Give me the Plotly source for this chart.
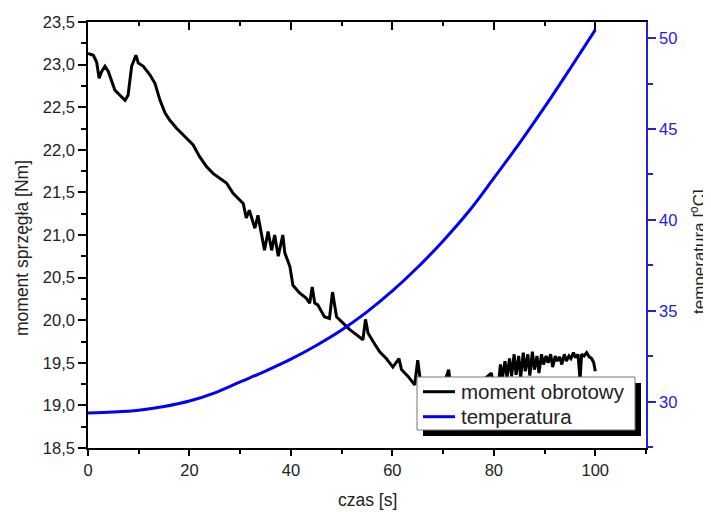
import plotly.graph_objects as go

# ---- data ----
time_torque = [0, 1.05, 1.7, 2.2, 2.7, 3.35, 4.0, 4.7, 5.3, 6.3, 7.3, 7.9, 8.6, 9.45, 9.9,
               10.9, 12.2, 13.2, 14.2, 15.2, 16.1, 17.5, 19.4, 20.7, 22.0, 23.4, 24.7, 26.0,
               27.3, 28.6, 29.9, 30.6, 31.2, 31.8, 32.9, 33.5, 34.8, 35.5, 36.2, 36.8, 37.5,
               38.4, 38.8, 39.8, 40.4, 41.7, 43.0, 43.7, 44.2, 44.7, 45.3, 46.6, 47.6, 48.2,
               49.0, 50.3, 51.6, 52.9, 54.2, 54.7, 55.2, 56.2, 57.5, 58.8, 60.1, 61.3, 61.8,
               63.1, 64.4, 65.0, 65.5, 66.5, 68.0, 70.0, 71.1, 71.5, 73.0, 75.0, 77.0, 79.5,
               79.9, 80.6, 81.0, 81.3, 81.7, 82.2, 82.6, 83.1, 83.5, 84.0, 84.4, 84.9, 85.3,
               85.8, 86.2, 86.7, 87.1, 87.6, 88.0, 88.5, 88.9, 89.4, 89.8, 90.3, 90.7, 91.2,
               91.6, 92.1, 92.5, 93.0, 93.4, 93.9, 94.3, 94.8, 95.2, 95.7, 96.1, 96.6, 97.0,
               97.3, 97.8, 98.3, 98.8, 99.3, 99.7, 100.0]
torque = [23.13, 23.11, 23.03, 22.84, 22.92, 22.98, 22.92, 22.80, 22.70, 22.64, 22.58, 22.64,
          22.98, 23.11, 23.02, 22.98, 22.88, 22.78, 22.58, 22.43, 22.35, 22.25, 22.13, 22.06,
          21.92, 21.80, 21.72, 21.67, 21.61, 21.49, 21.41, 21.37, 21.20, 21.29, 21.08, 21.23,
          20.82, 21.04, 20.82, 21.00, 20.75, 21.00, 20.79, 20.63, 20.41, 20.32, 20.26, 20.20,
          20.39, 20.20, 20.18, 20.04, 20.02, 20.33, 20.04, 19.96, 19.89, 19.83, 19.77, 20.01,
          19.85, 19.75, 19.63, 19.55, 19.45, 19.55, 19.42, 19.34, 19.24, 19.53, 19.30, 19.22,
          19.20, 19.22, 19.42, 19.22, 19.20, 19.22, 19.25, 19.38, 19.25, 19.28, 19.30, 19.48,
          19.32, 19.52, 19.33, 19.55, 19.34, 19.60, 19.36, 19.58, 19.33, 19.62, 19.40, 19.60,
          19.35, 19.63, 19.42, 19.58, 19.38, 19.60, 19.48, 19.58, 19.50, 19.60, 19.45, 19.58,
          19.52, 19.57, 19.48, 19.60, 19.52, 19.58, 19.55, 19.62, 19.56, 19.60, 19.30, 19.60,
          19.58, 19.62, 19.57, 19.55, 19.50, 19.40]

time_temp = [0, 5, 10, 15, 20, 25, 30, 35, 40, 45, 50, 55, 60, 65, 70, 75, 80, 85, 90, 95, 100]
temperature = [29.4, 29.45, 29.55, 29.75, 30.05, 30.5, 31.1, 31.7, 32.35, 33.1, 33.95, 34.95,
               36.1, 37.4, 38.85, 40.45, 42.3, 44.2, 46.2, 48.3, 50.45]

series_names = ["moment obrotowy", "temperatura"]
x_ticks = [0, 20, 40, 60, 80, 100]
left_ticks = [18.5, 19.0, 19.5, 20.0, 20.5, 21.0, 21.5, 22.0, 22.5, 23.0, 23.5]
right_ticks = [30, 35, 40, 45, 50]

FONT = "Liberation Sans, Arial, sans-serif"
BLUE = "#0000ff"
AXBLUE = "#2222dd"
TXT = "#222"

# the page places the figure 8px from the top-left corner (body margin)
OFF = 8
W, H = 711 - OFF, 512 - OFF
SL, SR, ST, SB = 88, 646, 22, 448          # plot area in window pixels
L, T = SL - OFF, ST - OFF
R, B = 711 - SR, 512 - SB
PW, PH = SR - SL, SB - ST


def px(sx):
    return (sx - SL) / PW


def py(sy):
    return (SB - sy) / PH


fig = go.Figure()
fig.add_trace(go.Scatter(x=time_torque, y=torque, mode="lines", name=series_names[0],
                         line=dict(color="black", width=3), yaxis="y"))
fig.add_trace(go.Scatter(x=time_temp, y=temperature, mode="lines", name=series_names[1],
                         line=dict(color=BLUE, width=3, shape="spline"), yaxis="y2"))
# trace to activate top axis (point outside visible range)
fig.add_trace(go.Scatter(x=[50], y=[10], mode="lines", xaxis="x2", yaxis="y",
                         showlegend=False, hoverinfo="skip"))

fig.update_layout(
    width=W, height=H,
    margin=dict(l=L, r=R, t=T, b=B, autoexpand=False),
    paper_bgcolor="white", plot_bgcolor="white",
    separators=", ",
    font=dict(family=FONT, size=16, color=TXT),
    showlegend=False,
    xaxis=dict(range=[0, 110], tickvals=x_ticks, ticks="outside", ticklen=6, tickwidth=1.5,
               tickcolor="black", showline=True, linecolor="black", linewidth=1.5,
               showgrid=False, zeroline=False, automargin=False,
               tickfont=dict(size=16.5, color=TXT),
               minor=dict(dtick=10, ticks="outside", ticklen=4, tickwidth=1.5, tickcolor="black")),
    xaxis2=dict(range=[0, 110], overlaying="x", side="top", anchor="y", tickvals=x_ticks,
                ticks="inside", ticklen=8, tickwidth=1.5, tickcolor="black",
                showticklabels=False, showline=True, linecolor="black", linewidth=1.5,
                showgrid=False, zeroline=False, automargin=False,
                minor=dict(dtick=10, ticks="inside", ticklen=4, tickwidth=1.5, tickcolor="black")),
    yaxis=dict(range=[18.5, 23.5], tickvals=left_ticks, tickformat=".1f", ticks="outside",
               ticklen=8, tickwidth=1.5, tickcolor="black", showline=True, linecolor="black",
               linewidth=1.5, showgrid=False, zeroline=False, automargin=False,
               tickfont=dict(size=16.5, color=TXT),
               minor=dict(dtick=0.25, ticks="outside", ticklen=5, tickwidth=1.5, tickcolor="black")),
    yaxis2=dict(range=[27.47, 50.88], overlaying="y", side="right", anchor="x",
                tickvals=right_ticks, ticks="outside", ticklen=8, tickwidth=1.5,
                tickcolor=AXBLUE, showline=True, linecolor=AXBLUE, linewidth=1.5,
                showgrid=False, zeroline=False, automargin=False,
                tickfont=dict(color=AXBLUE, size=16.5),
                minor=dict(dtick=2.5, ticks="outside", ticklen=5, tickwidth=1.5, tickcolor=AXBLUE)),
)

# manual legend: shadow, box, line samples, labels
fig.add_shape(type="rect", xref="paper", yref="paper",
              x0=px(423), x1=px(641), y0=py(436), y1=py(383),
              fillcolor="black", line=dict(width=0), layer="above")
fig.add_shape(type="rect", xref="paper", yref="paper",
              x0=px(417), x1=px(635), y0=py(430), y1=py(377),
              fillcolor="white", line=dict(color="#777", width=1), layer="above")
for yy, col in [(391.7, "black"), (416.7, BLUE)]:
    fig.add_shape(type="line", xref="paper", yref="paper",
                  x0=px(423), x1=px(455), y0=py(yy), y1=py(yy),
                  line=dict(color=col, width=3), layer="above")
for yy, name in [(391.7, series_names[0]), (416.7, series_names[1])]:
    fig.add_annotation(text=name, xref="paper", yref="paper", x=px(459), y=py(yy),
                       xanchor="left", yanchor="middle", showarrow=False,
                       font=dict(size=20.5, color=TXT))

fig.add_annotation(text="czas [s]", xref="paper", yref="paper", x=0.5, y=py(500),
                   yanchor="middle", showarrow=False, font=dict(size=17.5, color=TXT))
fig.add_annotation(text="moment sprzęgła [Nm]", xref="paper", yref="paper", x=px(22),
                   y=py(248), xanchor="center", yanchor="middle", textangle=-90,
                   showarrow=False, font=dict(size=17.5, color=TXT))
fig.add_annotation(text="temperatura [<sup>o</sup>C]", xref="paper", yref="paper", x=px(698),
                   y=py(252), xanchor="center", yanchor="middle", textangle=-90,
                   showarrow=False, font=dict(size=17, color=TXT))

fig.write_html("out.html")
